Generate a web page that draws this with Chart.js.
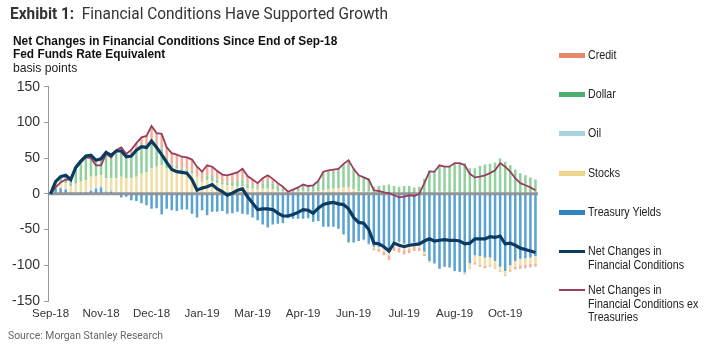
<!DOCTYPE html>
<html><head><meta charset="utf-8">
<script src="https://cdn.jsdelivr.net/npm/chart.js@4/dist/chart.umd.min.js"></script>
<style>
body{margin:0;width:705px;height:344px;overflow:hidden;background:#fff;position:relative;font-family:'Liberation Sans',Arial,sans-serif;color:#222}
#wrap{position:absolute;left:0;top:0;width:705px;height:344px}
.t{position:absolute;white-space:nowrap;transform-origin:0 0;line-height:1}
.sw{position:absolute;left:559px;width:26px}
.lg{position:absolute;left:588px;font-size:13px;line-height:13.5px;color:#222;white-space:nowrap;transform-origin:0 0;transform:scaleX(0.82)}
</style></head>
<body>
<div id="wrap"><canvas id="c"></canvas></div>
<div class="t fit" data-w="378" style="left:10px;top:5px;font-family:Roboto,'Liberation Sans',sans-serif;font-size:17px;color:#333"><b>Exhibit 1:</b>&nbsp; Financial Conditions Have Supported Growth</div>
<div class="t fit" data-w="324" style="left:13px;top:34px;font-size:13.5px;font-weight:bold;color:#111">Net Changes in Financial Conditions Since End of Sep-18</div>
<div class="t fit" data-w="152" style="left:13px;top:47px;font-size:13.5px;font-weight:bold;color:#111">Fed Funds Rate Equivalent</div>
<div class="t fit" data-w="64" style="left:13px;top:61px;font-size:13.5px;color:#222">basis points</div>
<div class="t fit" data-w="155" style="left:8px;top:330px;font-family:Roboto,'Liberation Sans',sans-serif;font-size:11px;color:#666">Source: Morgan Stanley Research</div>

<div class="sw" style="top:53px;height:5px;background:#e8896b"></div><div class="lg" style="top:48px">Credit</div>
<div class="sw" style="top:92px;height:5px;background:#4caf6e"></div><div class="lg" style="top:87px">Dollar</div>
<div class="sw" style="top:131px;height:5px;background:#a8d4e2"></div><div class="lg" style="top:126px">Oil</div>
<div class="sw" style="top:171px;height:5px;background:#efd58c"></div><div class="lg" style="top:166px">Stocks</div>
<div class="sw" style="top:210px;height:5px;background:#2f86bd"></div><div class="lg" style="top:205px">Treasury Yields</div>
<div class="sw" style="top:250px;height:3px;background:#0c3a60"></div><div class="lg" style="top:244px">Net Changes in<br>Financial Conditions</div>
<div class="sw" style="top:289px;height:2px;background:#9a3d5e"></div><div class="lg" style="top:283px">Net Changes in<br>Financial Conditions ex<br>Treasuries</div>

<script>
document.querySelectorAll('.fit').forEach(el => {
  const w = el.scrollWidth;
  el.style.transform = 'scaleX(' + (Number(el.dataset.w) / w) + ')';
});

const tickLabels = ['Sep-18','Nov-18','Dec-18','Jan-19','Mar-19','Apr-19','Jun-19','Jul-19','Aug-19','Oct-19'];
const tickEvery = 10;

const netChanges = [0,17,24,26,20,37,46,53,54,47,49,58,54,60,60,52,53,61,66,65,74,65,55,44,34,31,30,29,20,5,8,10,13,7,3,-2,1,5,7,-4,-13,-22,-21,-21,-22,-27,-31,-31,-29,-26,-22,-23,-27,-20,-15,-13,-12,-14,-15,-21,-33,-40,-41,-50,-69,-70,-74,-80,-69,-72,-74,-72,-71,-70,-66,-63,-66,-65,-64,-65,-65,-66,-70,-69,-63,-63,-63,-60,-61,-59,-70,-69,-72,-76,-78,-80,-82];
const netExTreasuries = [0,9,16,20,20,36,44,51,50,40,40,56,51,61,65,56,62,71,79,81,95,85,84,65,57,55,52,51,48,38,31,40,38,32,27,26,28,30,35,25,20,15,22,26,21,15,10,3,6,9,13,11,12,18,31,33,34,35,42,47,35,26,23,20,5,4,2,1,-2,-5,-4,-2,-3,0,15,31,31,40,38,38,43,43,40,28,23,24,26,29,33,43,38,31,22,15,12,9,5];
const treasuryYields = [0,8,8,6,0,1,2,2,4,7,9,2,3,-1,-5,-4,-9,-10,-13,-16,-21,-20,-29,-21,-23,-24,-22,-22,-28,-33,-23,-30,-25,-25,-24,-28,-27,-25,-28,-29,-33,-37,-43,-47,-43,-42,-41,-34,-35,-35,-35,-34,-39,-38,-46,-46,-46,-49,-57,-68,-68,-66,-64,-70,-74,-74,-76,-81,-67,-67,-70,-70,-68,-70,-81,-94,-97,-105,-102,-103,-108,-109,-110,-97,-86,-87,-89,-89,-94,-102,-108,-100,-94,-91,-90,-89,-87];
const oil = [0,0,1,1,1,1,1,1,2,2,2,2,2,2,2,2,2,2,2,2,2,2,2,2,2,2,2,2,2,2,1,1,1,1,1,1,1,1,1,1,1,1,1,1,1,1,1,1,1,1,1,1,1,1,1,1,1,1,1,1,1,1,1,1,1,1,1,1,1,1,1,1,1,1,1,1,2,2,2,2,2,2,2,2,2,2,2,2,2,2,2,2,2,2,2,2,2];
const stocks = [0,3,6,8,10,12,14,16,18,16,15,18,17,20,22,20,20,22,26,28,34,36,38,34,32,33,30,28,26,22,16,18,16,14,12,11,10,9,10,7,6,5,6,6,5,3,2,1,1,2,3,2,2,3,4,5,6,7,8,8,5,3,2,2,-2,-3,-5,-6,-7,-8,-8,-7,-6,-5,-3,-1,0,1,1,0,1,0,-2,-6,-10,-12,-12,-11,-9,-6,-5,-6,-8,-9,-9,-9,-10];
const dollar = [0,6,9,10,8,22,27,32,27,19,20,32,28,34,35,28,33,38,40,39,39,29,24,13,7,4,3,4,4,1,2,7,8,5,3,4,6,8,11,7,5,3,8,11,9,7,5,1,4,6,8,8,9,13,24,25,25,25,30,35,28,22,21,18,9,10,11,12,10,9,10,10,8,9,20,32,30,37,35,36,40,41,41,34,34,37,39,40,42,48,43,38,32,27,24,21,18];
const credit = [0,0,0,1,1,1,2,2,3,3,3,4,4,5,6,6,7,9,11,12,20,18,20,16,16,16,17,17,16,13,12,14,13,12,11,10,11,12,13,10,8,6,7,8,6,4,2,0,0,0,1,0,0,1,2,2,2,2,3,3,1,0,-1,-1,-3,-4,-5,-6,-6,-7,-7,-6,-6,-5,-3,-1,-1,0,0,0,0,0,-1,-2,-3,-3,-3,-2,-2,-1,-2,-3,-4,-5,-5,-5,-5];

const categories = netChanges.map((_, i) => 'd' + i);

const zeroLine = {
  id: 'zeroLine',
  beforeDatasetsDraw() { this._done = false; },
  beforeDatasetDraw(chart, args) {
    if (this._done || args.meta.type !== 'line') return;
    const {ctx, chartArea} = chart;
    const y = chart.scales.y.getPixelForValue(0);
    ctx.save();
    ctx.strokeStyle = 'rgba(135,140,145,0.9)';
    ctx.lineWidth = 3;
    ctx.beginPath(); ctx.moveTo(chartArea.left, y); ctx.lineTo(chartArea.right, y); ctx.stroke();
    ctx.restore();
    this._done = true;
  }
};

const barCommon = {type: 'bar', stack: 'bars', order: 1, barPercentage: 0.5, categoryPercentage: 1, borderWidth: 0};
new Chart(document.getElementById('c'), {
  data: {
    labels: categories,
    datasets: [
      {type: 'line', label: 'Net Changes in Financial Conditions', data: netChanges, borderColor: '#0c3a60', borderWidth: 3.2, pointRadius: 0, tension: 0, stack: 'net', order: 0},
      {type: 'line', label: 'Net Changes in Financial Conditions ex Treasuries', data: netExTreasuries, borderColor: '#9a3d5e', borderWidth: 1.8, pointRadius: 0, tension: 0, stack: 'ex', order: 0},
      {...barCommon, label: 'Treasury Yields', data: treasuryYields, backgroundColor: '#5ba3d3'},
      {...barCommon, label: 'Oil', data: oil, backgroundColor: '#a6d3e2'},
      {...barCommon, label: 'Stocks', data: stocks, backgroundColor: '#f2dea4'},
      {...barCommon, label: 'Dollar', data: dollar, backgroundColor: '#92d19e'},
      {...barCommon, label: 'Credit', data: credit, backgroundColor: '#f1b09b'}
    ]
  },
  options: {
    responsive: true, maintainAspectRatio: false, animation: false,
    layout: {padding: {left: 0, right: 167, top: 86.7, bottom: 0}},
    plugins: {legend: {display: false}, tooltip: {enabled: false}},
    scales: {
      x: {
        stacked: true,
        grid: {display: false, drawTicks: false}, border: {display: false},
        ticks: {autoSkip: false, maxRotation: 0, minRotation: 0, padding: 6, color: '#333',
          font: {family: "'Liberation Sans',Arial", size: 11.5},
          callback: (v, i) => i % tickEvery === 0 ? tickLabels[i / tickEvery] : ''},
        afterFit: s => { s.height = 43; }
      },
      y: {
        stacked: true, min: -150, max: 150,
        ticks: {stepSize: 50, padding: 4, color: '#333', font: {family: "'Liberation Sans',Arial", size: 14}},
        grid: {drawOnChartArea: false, tickLength: 4, color: '#999'},
        border: {color: '#999', width: 1},
        afterFit: s => { s.width = 48; }
      }
    }
  },
  plugins: [zeroLine]
});
</script>
</body></html>
